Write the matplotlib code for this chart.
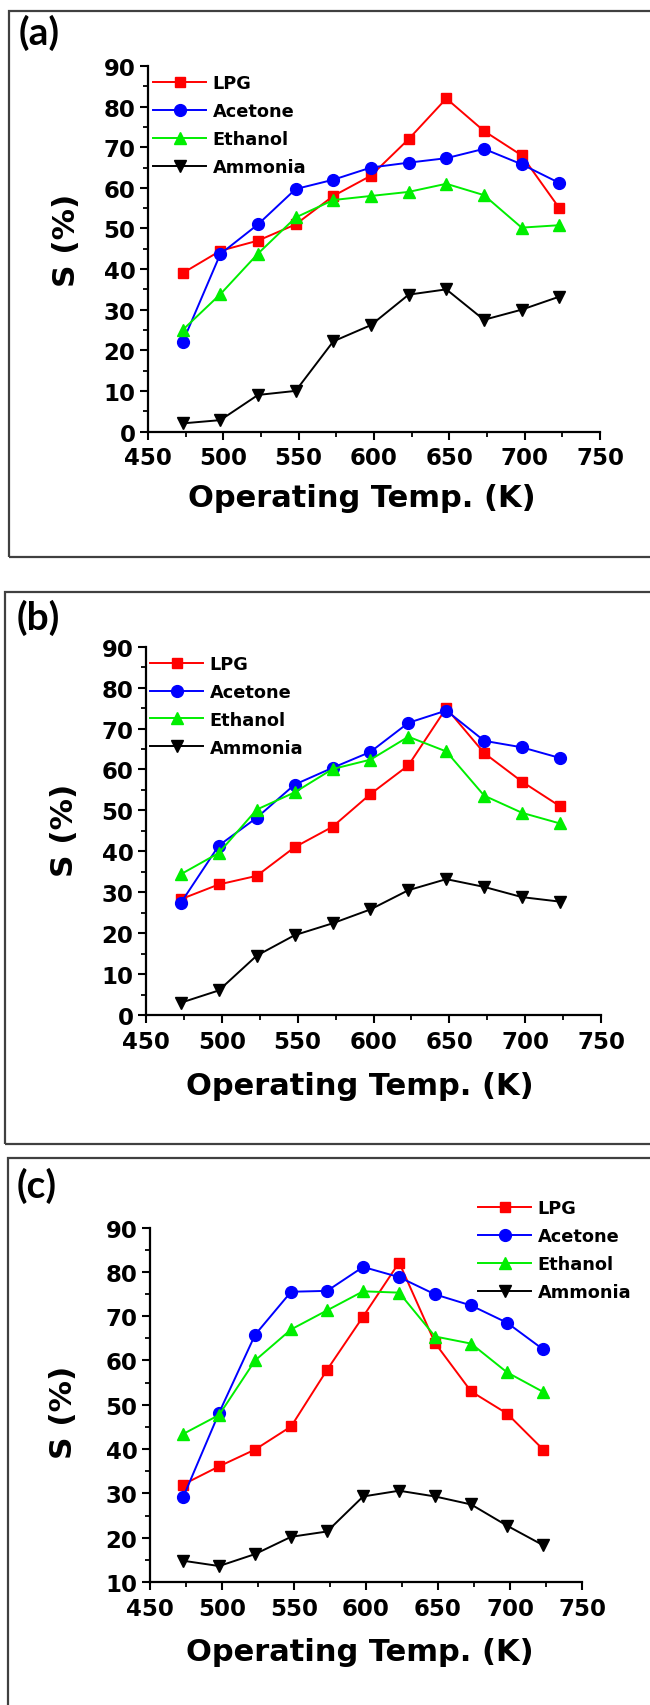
import numpy as np
import matplotlib
matplotlib.use("Agg")
from matplotlib import pyplot as plt
from matplotlib.patches import Rectangle
from matplotlib.ticker import MultipleLocator

# operating temperature (K), same for every panel
temp = [473, 498, 523, 548, 573, 598, 623, 648, 673, 698, 723]

# panel (a)
lpg_a = [39, 44.5, 47, 51, 58, 63, 72, 82, 74, 68, 55]
acetone_a = [22, 43.7, 51, 59.7, 62, 65, 66.2, 67.3, 69.6, 65.8, 61.2]
ethanol_a = [25, 33.8, 43.8, 52.7, 57, 58, 59, 61, 58.2, 50.2, 50.8]
ammonia_a = [2, 2.8, 9, 10, 22.2, 26.2, 33.7, 35, 27.5, 30, 33.2]

# panel (b)
lpg_b = [28.3, 31.9, 34, 41, 46, 54, 61, 75, 64, 57, 51]
acetone_b = [27.4, 41.4, 48.2, 56.3, 60.4, 64.3, 71.4, 74.4, 67, 65.4, 62.8]
ethanol_b = [34.4, 39.6, 50.2, 54.4, 60.1, 62.4, 68, 64.4, 53.6, 49.4, 46.8]
ammonia_b = [3, 6, 14.5, 19.5, 22.4, 25.8, 30.5, 33.2, 31.3, 28.8, 27.7]

# panel (c)
lpg_c = [32, 36.1, 39.9, 45.1, 57.9, 69.9, 82.1, 63.9, 53, 48, 39.9]
acetone_c = [29.1, 48.2, 65.8, 75.5, 75.7, 81.1, 78.8, 74.9, 72.4, 68.5, 62.5]
ethanol_c = [43.4, 47.7, 60, 67, 71.3, 75.6, 75.3, 65.4, 63.8, 57.3, 52.9]
ammonia_c = [14.8, 13.6, 16.3, 20.2, 21.4, 29.3, 30.6, 29.3, 27.5, 22.7, 18.3]

gases = ["LPG", "Acetone", "Ethanol", "Ammonia"]
styles = [("#ff0000", "s", 7.5), ("#0000ff", "o", 8.5),
          ("#00ee00", "^", 8.5), ("#000000", "v", 8.5)]

W, H = 650, 1706
fig = plt.figure(figsize=(W / 100, H / 100), dpi=100)

def fx(px):
    return px / W

def fy(py):
    return 1 - py / H

panels = [
    # label, data, axes px (l, r, top, bottom), ylim, box (x, top, bottom), legend anchor, ylabel, xlabel coords, tag pos
    ("(a)", [lpg_a, acetone_a, ethanol_a, ammonia_a], (148, 600, 67, 432.5), (0, 90),
     (9, 12.5, 558), (0.011, 0.978), (-0.148, 0.527), (0.473, -0.14), (19, 15)),
    ("(b)", [lpg_b, acetone_b, ethanol_b, ammonia_b], (146, 601, 647.7, 1016), (0, 90),
     (5, 592.5, 1145), (0.009, 0.978), (-0.147, 0.505), (0.47, -0.152), (17, 600)),
    ("(c)", [lpg_c, acetone_c, ethanol_c, ammonia_c], (150, 582, 1228.5, 1583), (10, 90),
     (7.5, 1158.6, 1730), (0.759, 1.08), (-0.167, 0.482), (0.485, -0.156), (17, 1168)),
]

for tag, series, (l, r, t, b), ylim, (bx, bt, bb), leg_xy, ylab_xy, xlab_xy, tag_xy in panels:
    # panel frame
    fig.patches.append(Rectangle((fx(bx), fy(bb)), fx(680 - bx), (bb - bt) / H,
                                 transform=fig.transFigure, fill=False,
                                 edgecolor="#404040", linewidth=1.6))
    fig.text(fx(tag_xy[0]), fy(tag_xy[1]), tag, family="Lato", weight="bold",
             fontsize=28, va="top", ha="left")

    ax = fig.add_axes([fx(l), fy(b), fx(r - l), (b - t) / H])
    for vals, name, (c, m, ms) in zip(series, gases, styles):
        ax.plot(temp, vals, color=c, marker=m, markersize=ms, linewidth=1.4,
                label=name)

    ax.set_xlim(450, 750)
    ax.set_ylim(*ylim)
    ax.xaxis.set_major_locator(MultipleLocator(50))
    ax.xaxis.set_minor_locator(MultipleLocator(25))
    ax.yaxis.set_major_locator(MultipleLocator(10))
    ax.yaxis.set_minor_locator(MultipleLocator(5))
    for s in ["top", "right"]:
        ax.spines[s].set_visible(False)
    for s in ["left", "bottom"]:
        ax.spines[s].set_linewidth(1.6)
    ax.tick_params(which="major", direction="out", length=6, width=1.5,
                   labelsize=16.5)
    ax.tick_params(which="minor", direction="out", length=3.5, width=1.3)
    ax.tick_params(axis="y", which="major", pad=3)
    ax.tick_params(axis="x", which="major", pad=4.5)
    for lab in ax.get_xticklabels() + ax.get_yticklabels():
        lab.set_fontweight("bold")

    ax.set_ylabel("S (%)", fontsize=22.5, fontweight="bold")
    ax.set_xlabel("Operating Temp. (K)", fontsize=22, fontweight="bold")
    ax.yaxis.set_label_coords(*ylab_xy)
    ax.xaxis.set_label_coords(*xlab_xy)

    ax.legend(loc="upper left", bbox_to_anchor=leg_xy, frameon=False,
              borderpad=0, borderaxespad=0, handlelength=3.0,
              handletextpad=0.35, labelspacing=0.56, numpoints=1,
              prop={"weight": "bold", "size": 12.8})

fig.savefig("out.png", dpi=100)
